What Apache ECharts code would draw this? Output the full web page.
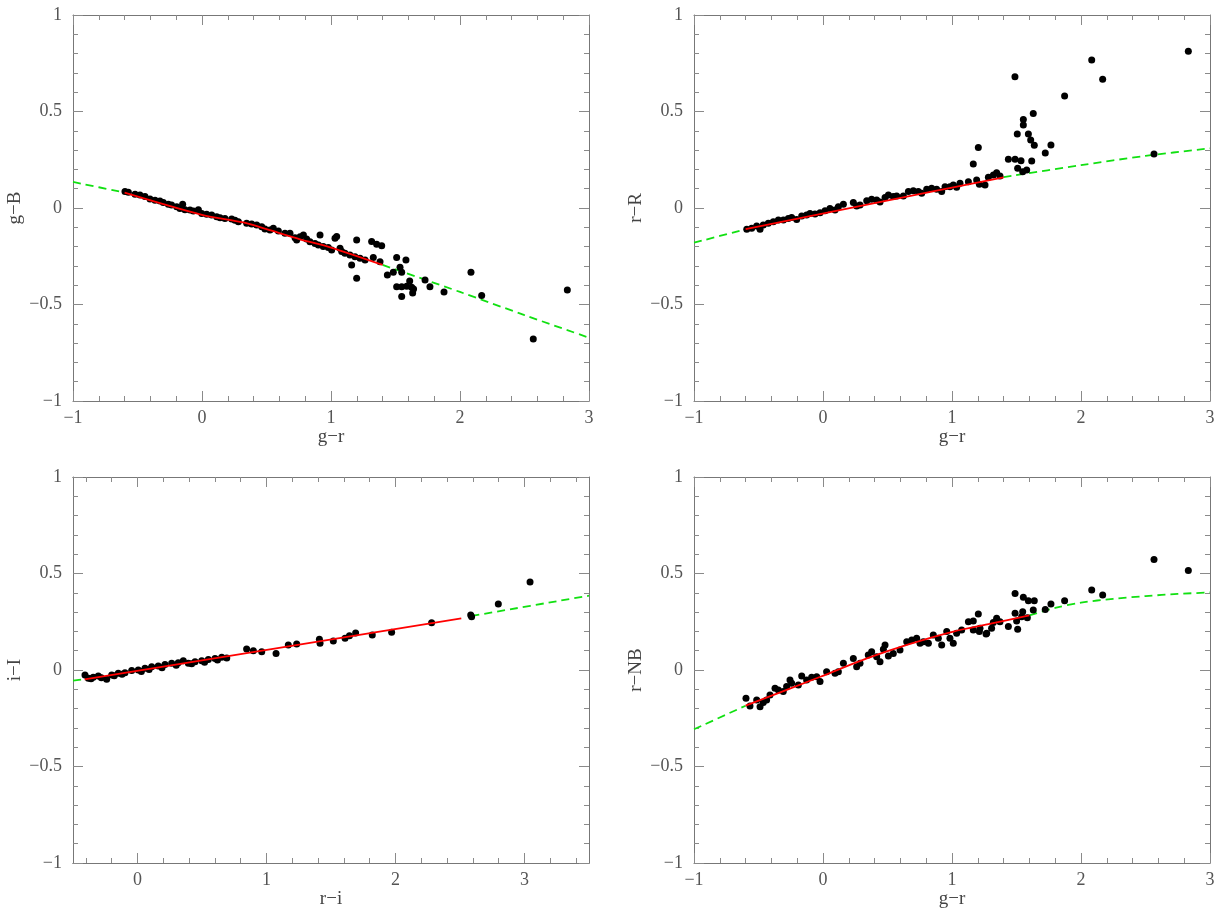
<!DOCTYPE html>
<html>
<head>
<meta charset="utf-8">
<title>SDSS to Johnson colour transformations</title>
<script src="https://cdn.jsdelivr.net/npm/echarts@6/dist/echarts.min.js"></script>
<style>
  html, body { margin: 0; padding: 0; background: #fff; }
  #main { width: 1220px; height: 913px; }
</style>
</head>
<body>
<div id="main"></div>
<script>
// ---- panel 1: g-B against g-r
const gB_pts = [
  [-0.597,0.085],[-0.571,0.081],[-0.519,0.071],[-0.481,0.067],[-0.442,0.059],[-0.403,0.047],
  [-0.364,0.040],[-0.326,0.036],[-0.300,0.029],[-0.261,0.019],[-0.236,0.016],[-0.196,0.007],
  [-0.171,-0.002],[-0.150,0.019],[-0.132,-0.009],[-0.093,-0.010],[-0.067,-0.016],[-0.028,-0.009],
  [-0.002,-0.028],[0.036,-0.033],[0.075,-0.036],[0.114,-0.045],[0.140,-0.050],[0.178,-0.054],
  [0.230,-0.057],[0.256,-0.064],[0.282,-0.071],[0.346,-0.079],[0.385,-0.083],[0.424,-0.088],
  [0.463,-0.097],[0.488,-0.109],[0.527,-0.114],[0.553,-0.105],[0.592,-0.119],[0.643,-0.131],
  [0.682,-0.131],[0.721,-0.154],[0.734,-0.166],[0.760,-0.149],[0.786,-0.140],[0.811,-0.161],
  [0.837,-0.175],[0.876,-0.184],[0.902,-0.192],[0.915,-0.140],[0.940,-0.200],[0.979,-0.205],
  [1.005,-0.218],[1.031,-0.157],[1.044,-0.148],[1.070,-0.209],[1.083,-0.226],[1.108,-0.235],
  [1.147,-0.244],[1.160,-0.295],[1.186,-0.252],[1.199,-0.166],[1.199,-0.364],[1.225,-0.261],
  [1.264,-0.269],[1.315,-0.174],[1.328,-0.257],[1.354,-0.188],[1.380,-0.278],[1.393,-0.195],
  [1.437,-0.347],[1.483,-0.333],[1.509,-0.257],[1.535,-0.307],[1.548,-0.333],[1.509,-0.408],
  [1.548,-0.408],[1.587,-0.406],[1.610,-0.378],[1.625,-0.410],[1.548,-0.459],[1.581,-0.269],
  [1.633,-0.440],[1.640,-0.420],[1.729,-0.373],[1.767,-0.408],[1.876,-0.435],[2.085,-0.333],
  [2.168,-0.454],[2.568,-0.679],[2.832,-0.425]
];
const gB_fit = [[-0.6,0.08],[0,-0.035],[0.32,-0.075],[0.5,-0.11],[0.76,-0.162],[1.0,-0.205],[1.4,-0.295]];
const gB_extLo = [[-1,0.135],[-0.6,0.08]];
const gB_extHi = [[1.4,-0.295],[2,-0.435],[2.5,-0.555],[3,-0.672]];

// ---- panel 2: r-R against g-r
const rR_pts = [
  [-0.591,-0.110],[-0.553,-0.105],[-0.514,-0.093],[-0.488,-0.110],[-0.463,-0.088],[-0.424,-0.079],
  [-0.385,-0.071],[-0.346,-0.062],[-0.307,-0.062],[-0.269,-0.054],[-0.243,-0.049],[-0.204,-0.059],
  [-0.165,-0.041],[-0.127,-0.036],[-0.101,-0.028],[-0.062,-0.031],[-0.023,-0.024],[0.016,-0.014],
  [0.054,-0.002],[0.093,-0.010],[0.119,0.007],[0.158,0.019],[0.235,0.028],[0.261,0.010],
  [0.287,0.016],[0.339,0.038],[0.377,0.045],[0.416,0.041],[0.442,0.031],[0.481,0.055],
  [0.507,0.067],[0.545,0.059],[0.571,0.062],[0.623,0.062],[0.662,0.085],[0.700,0.090],
  [0.739,0.085],[0.765,0.076],[0.804,0.097],[0.842,0.102],[0.881,0.097],[0.920,0.085],
  [0.946,0.110],[0.984,0.110],[1.010,0.119],[1.036,0.107],[1.062,0.128],[1.127,0.136],
  [1.165,0.228],[1.204,0.314],[1.212,0.123],[1.191,0.145],[1.256,0.119],[1.282,0.159],
  [1.321,0.171],[1.346,0.183],[1.372,0.166],[1.437,0.252],[1.489,0.252],[1.509,0.206],
  [1.488,0.680],[1.506,0.383],[1.535,0.245],[1.548,0.188],[1.553,0.430],[1.553,0.459],
  [1.579,0.197],[1.592,0.383],[1.610,0.352],[1.618,0.244],[1.630,0.489],[1.638,0.325],
  [1.723,0.285],[1.767,0.326],[1.873,0.580],[2.083,0.767],[2.168,0.667],[2.566,0.280],
  [2.832,0.812]
];
const rR_fit = [[-0.6,-0.11],[0.4,0.025],[1.4,0.159]];
const rR_extLo = [[-1,-0.18],[-0.6,-0.11]];
const rR_extHi = [[1.4,0.16],[2,0.222],[2.5,0.27],[3,0.309]];

// ---- panel 3: i-I against r-i
const iI_pts = [
  [-0.407,-0.026],[-0.381,-0.043],[-0.343,-0.038],[-0.304,-0.031],[-0.239,-0.048],[-0.200,-0.026],
  [-0.149,-0.017],[-0.097,-0.014],[-0.045,-0.003],[0.006,0.000],[0.058,0.009],[0.110,0.017],
  [0.161,0.021],[0.213,0.028],[0.265,0.035],[0.316,0.038],[0.355,0.048],[0.394,0.035],
  [0.446,0.043],[0.498,0.048],[0.549,0.055],[0.601,0.060],[0.653,0.066],[0.692,0.062],
  [-0.36,-0.045],[-0.28,-0.040],[-0.18,-0.030],[-0.12,-0.022],[0.03,-0.008],[0.09,0.002],
  [0.19,0.012],[0.30,0.025],[0.42,0.033],[0.52,0.040],[0.62,0.052],
  [0.846,0.109],[0.898,0.100],[0.963,0.095],[1.074,0.086],[1.169,0.130],[1.234,0.135],
  [1.410,0.159],[1.415,0.138],[1.518,0.150],[1.609,0.164],[1.643,0.178],[1.691,0.192],
  [1.820,0.181],[1.970,0.195],[2.280,0.245],[2.583,0.285],[2.590,0.276],[2.797,0.342],
  [3.043,0.456]
];
const iI_fit = [[-0.41,-0.048],[2.51,0.268]];
const iI_extLo = [[-0.5,-0.055],[-0.41,-0.048]];
const iI_extHi = [[2.59,0.28],[3.5,0.385]];
const riMajor = [0, 1, 2, 3];
const riMinor = [-0.4,-0.2,0.2,0.4,0.6,0.8,1.2,1.4,1.6,1.8,2.2,2.4,2.6,2.8,3.2,3.4];

// ---- panel 4: r-NB against g-r
const NB_pts = [
  [-0.597,-0.147],[-0.566,-0.187],[-0.514,-0.155],[-0.488,-0.190],[-0.463,-0.169],[-0.437,-0.155],
  [-0.411,-0.130],[-0.372,-0.095],[-0.346,-0.104],[-0.308,-0.112],[-0.282,-0.086],[-0.256,-0.052],
  [-0.243,-0.069],[-0.191,-0.078],[-0.165,-0.031],[-0.127,-0.052],[-0.088,-0.038],[-0.049,-0.035],
  [-0.023,-0.060],[0.028,-0.009],[0.093,-0.017],[0.119,-0.009],[0.158,0.035],[0.235,0.060],
  [0.261,0.017],[0.287,0.035],[0.351,0.078],[0.377,0.095],[0.416,0.069],[0.442,0.043],
  [0.468,0.107],[0.481,0.130],[0.507,0.072],[0.545,0.086],[0.597,0.104],[0.649,0.147],
  [0.688,0.155],[0.726,0.164],[0.752,0.138],[0.778,0.147],[0.817,0.138],[0.855,0.181],
  [0.894,0.164],[0.920,0.130],[0.959,0.199],[0.984,0.164],[1.010,0.138],[1.036,0.190],
  [1.075,0.207],[1.127,0.250],[1.165,0.207],[1.204,0.290],[1.217,0.216],[1.269,0.190],
  [1.307,0.216],[1.346,0.268],[1.372,0.250],[1.437,0.225],[1.489,0.397],[1.489,0.294],
  [1.509,0.211],[1.501,0.254],[1.553,0.377],[1.592,0.359],[1.638,0.359],[1.548,0.302],
  [1.540,0.276],[1.584,0.271],[1.630,0.311],[1.723,0.314],[1.767,0.342],[1.873,0.359],
  [2.083,0.415],[2.168,0.389],[2.566,0.573],[2.832,0.515],[1.165,0.254],[1.212,0.199],
  [1.264,0.186],[1.320,0.246]
];
const NB_fit = [[-0.6,-0.185],[-0.02,-0.035],[0.34,0.06],[0.65,0.13],[1.01,0.199],[1.3,0.24],[1.6,0.283]];
const NB_extLo = [[-1,-0.307],[-0.6,-0.185]];
const NB_extHi = [[1.6,0.283],[1.8,0.322],[2.0,0.349],[2.25,0.369],[2.5,0.383],[2.75,0.394],[3,0.402]];

const fmt = v => (v < 0 ? '\u2212' : '') + Math.abs(v);
const serif = 'Liberation Serif';
const tickStyle = { color: '#8a8a8a', width: 1 };

function axis(gridIndex, position, opts) {
  const isX = position === 'bottom' || position === 'top';
  const o = Object.assign({ min: -1, max: 1, interval: 0.5, labels: false, name: '', tickLen: 10, minor: true }, opts);
  const a = {
    type: 'value', gridIndex, position, min: o.min, max: o.max,
    name: o.name, nameLocation: 'middle', nameGap: isX ? 23 : 48,
    nameTextStyle: { fontFamily: serif, fontSize: 19, color: '#444' },
    axisLine: { onZero: false, lineStyle: { color: '#777', width: 1 } },
    axisTick: { inside: true, length: o.tickLen, lineStyle: tickStyle },
    minorTick: { show: o.minor, splitNumber: 5, length: 5, lineStyle: tickStyle },
    splitLine: { show: false },
    minorSplitLine: { show: false },
    axisLabel: { show: o.labels, margin: isX ? 8 : 11, formatter: fmt,
      fontFamily: serif, fontSize: 18, color: '#555' }
  };
  if (o.custom) {
    a.axisTick.customValues = o.custom;
    if (o.labels) a.axisLabel.customValues = o.custom;
  } else {
    a.interval = o.interval;
  }
  return a;
}

const xg = { min: -1, max: 3, interval: 1 };
const xri = { min: -0.5, max: 3.5, minor: false };

const xAxes = [
  axis(0, 'bottom', Object.assign({ labels: true, name: 'g\u2212r' }, xg)),  // 0
  axis(0, 'top', xg),                                                         // 1
  axis(1, 'bottom', Object.assign({ labels: true, name: 'g\u2212r' }, xg)),  // 2
  axis(1, 'top', xg),                                                         // 3
  axis(2, 'bottom', Object.assign({ labels: true, name: 'r\u2212i', custom: riMajor }, xri)), // 4
  axis(2, 'bottom', Object.assign({ custom: riMinor, tickLen: 5 }, xri)),     // 5
  axis(2, 'top', Object.assign({ custom: riMajor }, xri)),                    // 6
  axis(2, 'top', Object.assign({ custom: riMinor, tickLen: 5 }, xri)),        // 7
  axis(3, 'bottom', Object.assign({ labels: true, name: 'g\u2212r' }, xg)),  // 8
  axis(3, 'top', xg)                                                          // 9
];
const yAxes = [
  axis(0, 'left', { labels: true, name: 'g\u2212B' }), axis(0, 'right', {}),
  axis(1, 'left', { labels: true, name: 'r\u2212R' }), axis(1, 'right', {}),
  axis(2, 'left', { labels: true, name: 'i\u2212I' }), axis(2, 'right', {}),
  axis(3, 'left', { labels: true, name: 'r\u2212NB' }), axis(3, 'right', {})
];

const xIdx = [0, 2, 4, 8];
const yIdx = [0, 2, 4, 6];

function dots(p, data) {
  return { type: 'scatter', xAxisIndex: xIdx[p], yAxisIndex: yIdx[p], data,
    symbol: 'circle', symbolSize: 7, itemStyle: { color: '#000', opacity: 1 }, z: 3, silent: true };
}
function fit(p, data) {
  return { type: 'line', xAxisIndex: xIdx[p], yAxisIndex: yIdx[p], data, smooth: 0.3,
    showSymbol: false, lineStyle: { color: '#ff0000', width: 1.8 }, z: 4, silent: true };
}
function ext(p, data) {
  return { type: 'line', xAxisIndex: xIdx[p], yAxisIndex: yIdx[p], data, smooth: 0.3,
    showSymbol: false, lineStyle: { color: '#11e011', width: 1.8, type: [8, 5] }, z: 2, silent: true };
}

const chart = echarts.init(document.getElementById('main'));
chart.setOption({
  animation: false,
  backgroundColor: '#fff',
  grid: [
    { left: 73, top: 15, width: 516, height: 386 },
    { left: 694, top: 15, width: 516, height: 386 },
    { left: 73, top: 477, width: 516, height: 386 },
    { left: 694, top: 477, width: 516, height: 386 }
  ],
  xAxis: xAxes,
  yAxis: yAxes,
  series: [
    ext(0, gB_extLo), ext(0, gB_extHi), dots(0, gB_pts), fit(0, gB_fit),
    ext(1, rR_extLo), ext(1, rR_extHi), dots(1, rR_pts), fit(1, rR_fit),
    ext(2, iI_extLo), ext(2, iI_extHi), dots(2, iI_pts), fit(2, iI_fit),
    ext(3, NB_extLo), ext(3, NB_extHi), dots(3, NB_pts), fit(3, NB_fit)
  ]
});
</script>
</body>
</html>
